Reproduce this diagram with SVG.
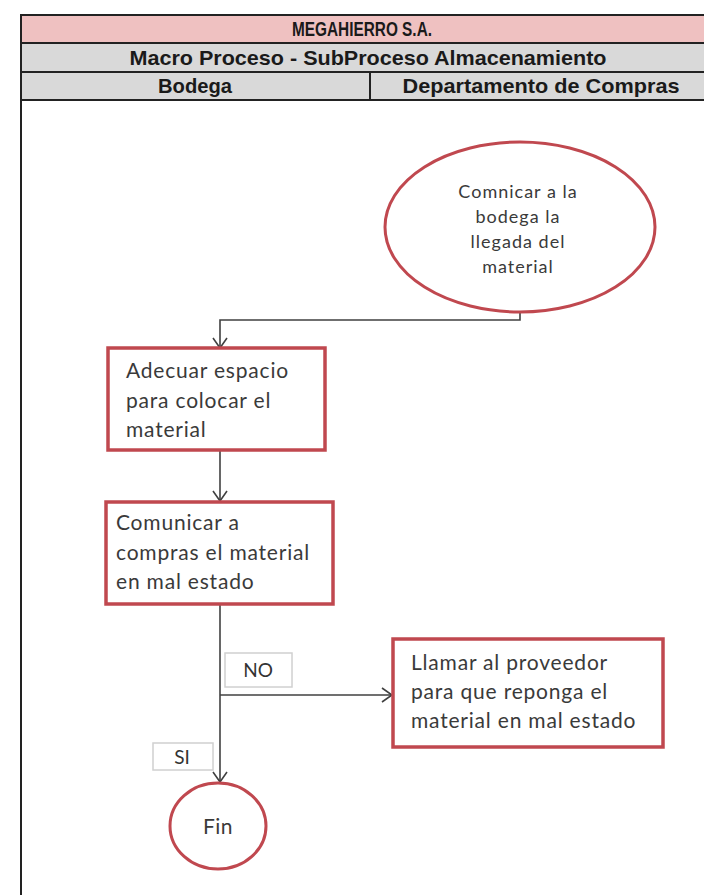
<svg xmlns="http://www.w3.org/2000/svg" width="704" height="895" viewBox="0 0 704 895">
  <style>
    .hdr { font-family: "Liberation Sans Narrow", "Liberation Sans", Arial, sans-serif; font-weight: bold; font-size: 21px; fill: #1a1a1a; text-anchor: middle; }
    .grid { stroke: #222; stroke-width: 2; }
    .step { fill: #ffffff; stroke: #c0484f; stroke-width: 3.5; }
    .term { fill: #ffffff; stroke: #c0484f; stroke-width: 3; }
    .txt { font-family: Lato, "Open Sans", "Noto Sans", sans-serif; font-size: 21px; letter-spacing: 0.8px; fill: #3a3a3a; }
    .etxt { font-family: Lato, "Open Sans", "Noto Sans", sans-serif; font-size: 18px; letter-spacing: 1px; fill: #3a3a3a; text-anchor: middle; }
    .tag { fill: #ffffff; stroke: #d0d0d0; stroke-width: 1.5; }
    .tagtxt { font-family: Lato, "Open Sans", "Noto Sans", sans-serif; font-size: 19px; fill: #333; text-anchor: middle; }
    .flow { fill: none; stroke: #404040; stroke-width: 1.6; }
  </style>
  <defs>
    <marker id="arrow" viewBox="0 0 12 16" refX="11" refY="8" markerWidth="12" markerHeight="16" markerUnits="userSpaceOnUse" orient="auto">
      <path d="M1,1 L11,8 L1,15" fill="none" stroke="#404040" stroke-width="1.6"/>
    </marker>
  </defs>

  <rect width="704" height="895" fill="#ffffff"/>

  <!-- swimlane table header -->
  <g id="header">
    <rect x="20" y="15" width="700" height="28" fill="#efc1c1"/>
    <rect x="20" y="43" width="700" height="57" fill="#d9d9d9"/>
    <line class="grid" x1="20" y1="15" x2="710" y2="15"/>
    <line class="grid" x1="20" y1="43" x2="710" y2="43"/>
    <line class="grid" x1="20" y1="72" x2="710" y2="72"/>
    <line class="grid" x1="20" y1="100" x2="710" y2="100"/>
    <line class="grid" x1="370" y1="72" x2="370" y2="100"/>
    <line class="grid" x1="21" y1="15" x2="21" y2="895"/>
    <text class="hdr" x="362" y="36" textLength="140" lengthAdjust="spacingAndGlyphs">MEGAHIERRO S.A.</text>
    <text class="hdr" x="368" y="65" textLength="477" lengthAdjust="spacingAndGlyphs">Macro Proceso - SubProceso Almacenamiento</text>
    <text class="hdr" x="195" y="93" textLength="74" lengthAdjust="spacingAndGlyphs">Bodega</text>
    <text class="hdr" x="541" y="93" textLength="277" lengthAdjust="spacingAndGlyphs">Departamento de Compras</text>
  </g>

  <!-- connectors -->
  <g id="connectors">
    <path class="flow" d="M520,312 V320 H220 V348" marker-end="url(#arrow)"/>
    <path class="flow" d="M220,450 V501" marker-end="url(#arrow)"/>
    <path class="flow" d="M220,604 V782" marker-end="url(#arrow)"/>
    <path class="flow" d="M220,695 H392" marker-end="url(#arrow)"/>
    <g id="label-no">
      <rect class="tag" x="225" y="653" width="67" height="34"/>
      <text class="tagtxt" x="258" y="677">NO</text>
    </g>
    <g id="label-si">
      <rect class="tag" x="153" y="743" width="60" height="27"/>
      <text class="tagtxt" x="182" y="764">SI</text>
    </g>
  </g>

  <!-- start: notify the warehouse -->
  <g id="inicio">
    <ellipse class="term" cx="520" cy="227" rx="135" ry="85"/>
    <text class="etxt" x="518" y="198">Comnicar a la</text>
    <text class="etxt" x="518" y="223">bodega la</text>
    <text class="etxt" x="518" y="248">llegada del</text>
    <text class="etxt" x="518" y="273">material</text>
  </g>

  <g id="adecuar">
    <rect class="step" x="108" y="348" width="217" height="102"/>
    <text class="txt" x="126" y="378">Adecuar espacio</text>
    <text class="txt" x="126" y="408">para colocar el</text>
    <text class="txt" x="126" y="437">material</text>
  </g>

  <g id="comunicar">
    <rect class="step" x="106" y="502" width="227" height="102"/>
    <text class="txt" x="116" y="530">Comunicar a</text>
    <text class="txt" x="116" y="560">compras el material</text>
    <text class="txt" x="116" y="589">en mal estado</text>
  </g>

  <g id="llamar">
    <rect class="step" x="393" y="639" width="270" height="108"/>
    <text class="txt" x="411" y="670">Llamar al proveedor</text>
    <text class="txt" x="411" y="699">para que reponga el</text>
    <text class="txt" x="411" y="728">material en mal estado</text>
  </g>

  <g id="fin">
    <ellipse class="term" cx="218" cy="826" rx="48" ry="43"/>
    <text class="etxt" x="218" y="834" style="font-size:21px; letter-spacing:0.5px">Fin</text>
  </g>
</svg>
